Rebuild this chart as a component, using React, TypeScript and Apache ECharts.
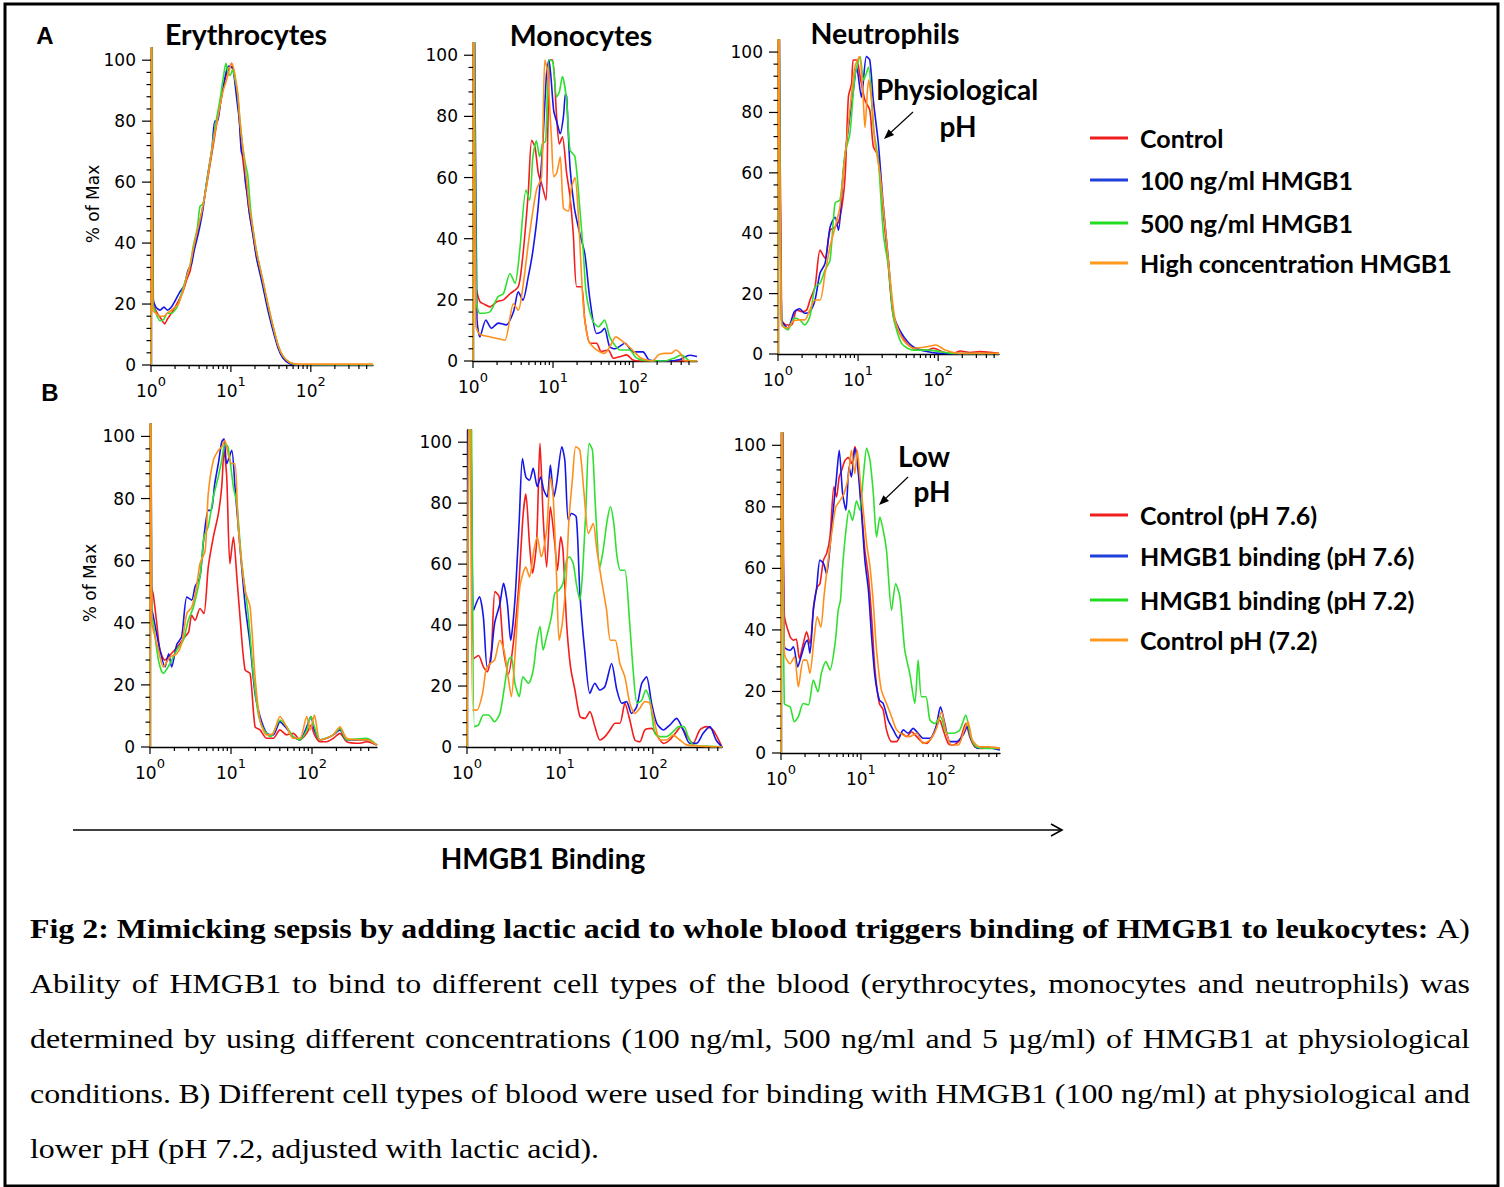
import React, { useEffect, useRef } from 'react';
import * as echarts from 'echarts';

// ---------- labels ----------
const PANEL_TITLES = ['Erythrocytes', 'Monocytes', 'Neutrophils'];
const LEGEND_A = ['Control', '100 ng/ml HMGB1', '500 ng/ml HMGB1', 'High concentration HMGB1'];
const LEGEND_B = ['Control (pH 7.6)', 'HMGB1 binding (pH 7.6)', 'HMGB1 binding (pH 7.2)', 'Control pH (7.2)'];
const Y_TICKS = [0, 20, 40, 60, 80, 100];
const Y_MINOR = [4, 8, 12, 16, 24, 28, 32, 36, 44, 48, 52, 56, 64, 68, 72, 76, 84, 88, 92, 96];
const X_DECADES = [1, 10, 100];
const X_MINOR = [2, 3, 4, 5, 6, 7, 8, 9, 20, 30, 40, 50, 60, 70, 80, 90, 200, 300, 400, 500];
const CAPTION_BOLD = 'Fig 2: Mimicking sepsis by adding lactic acid to whole blood triggers binding of HMGB1 to leukocytes:';
const CAPTION_LINES = [
  'A)',
  'Ability of HMGB1 to bind to different cell types of the blood (erythrocytes, monocytes and neutrophils) was',
  'determined by using different concentrations (100 ng/ml, 500 ng/ml and 5 µg/ml) of HMGB1 at physiological',
  'conditions. B) Different cell types of blood were used for binding with HMGB1 (100 ng/ml) at physiological and',
  'lower pH (pH 7.2, adjusted with lactic acid).',
];

// ---------- data: [fluorescence, % of max] ----------
// A: Erythrocytes
const ERY_CONTROL = [[1.0,0],[1.03,150],[1.07,20],[1.2,17],[1.35,15],[1.48,13.5],[1.6,15],[1.8,17],[2.0,19],[2.2,21],[2.5,24],[2.8,28],[3.1,31],[3.38,37],[3.8,43],[4.3,50],[4.97,59],[5.5,66],[6.0,72],[6.62,79],[7.3,85],[8.0,91],[8.7,95],[9.4,97],[10.2,99],[10.9,96],[11.6,91],[12.3,86],[13,77],[14,68],[15.8,57],[17,50],[18.8,43],[21,35],[25,27],[29,19],[33.5,12.5],[39,6],[44.7,2.6],[54.6,0.5],[70,0],[600,0]];
const ERY_100 = [[1.0,0],[1.02,150],[1.06,22],[1.15,19],[1.3,18],[1.45,19],[1.6,18],[1.8,19],[2.0,21],[2.3,24],[2.6,26],[2.9,31],[3.2,33],[3.5,38],[3.9,43],[4.4,50],[4.97,60],[5.4,66],[5.8,71],[6.3,80],[6.8,80],[7.4,86],[8.0,91],[8.7,96],[9.3,98],[9.9,98],[10.6,97],[11.3,92],[12,86],[12.8,80],[13.5,70],[14.5,68],[15.2,60],[15.8,57],[17,50],[18.8,43],[21,35],[25,26],[29,18],[33.5,11.5],[39,5.5],[44.7,2.3],[54.6,0.4],[70,0],[600,0]];
const ERY_500 = [[1.0,0],[1.02,150],[1.06,20],[1.15,17],[1.3,14.5],[1.45,15],[1.6,17],[1.8,17],[2.0,18],[2.2,20],[2.5,25],[2.8,29],[3.1,33],[3.38,39],[3.8,45],[4.1,52],[4.5,53],[4.97,60],[5.5,67],[6.0,74],[6.62,81],[7.3,87],[8.0,94],[8.66,99],[9.2,96],[9.8,95],[10.5,97],[11.2,94],[12,90],[13,80],[14,72],[15.2,66],[16.3,62],[17.5,52],[18.8,45],[21,37],[25,28],[29,20],[33.5,13],[39,6.5],[44.7,3],[54.6,0.8],[70,0.1],[600,0]];
const ERY_HIGH = [[1.0,0],[1.01,150],[1.05,18],[1.15,17],[1.3,16],[1.45,16],[1.6,17],[1.8,18],[2.0,19],[2.2,20],[2.5,24],[2.8,29],[3.1,33],[3.38,38],[3.8,44],[4.3,50],[4.97,59],[5.5,67],[6.0,73],[6.62,79],[7.3,85],[8.0,90],[8.7,93],[9.4,96],[10.2,99],[10.9,97],[11.6,93],[12.3,88],[13,80],[14,72],[15.8,60],[17,52],[18.8,45],[21,37],[25,28],[29,20],[33.5,13],[39,6.5],[44.7,3],[54.6,0.8],[70,0.3],[600,0.3]];

// A: Monocytes
const MONO_CONTROL = [[1.0,0],[1.03,150],[1.08,25],[1.22,19.4],[1.4,18.5],[1.63,17.7],[1.98,19.4],[2.4,20],[2.9,22],[3.68,24.3],[4.1,32],[4.46,41.7],[4.9,54.8],[5.41,72.2],[5.95,70],[6.55,61.4],[7.2,58],[8.17,52.6],[8.6,75],[9.17,98.4],[9.9,98.4],[11.1,79.8],[12,71],[13.1,73.3],[14.8,61.4],[16.3,53.8],[17.9,41.7],[19.8,24.3],[22.7,24.3],[25,13.4],[29,5.8],[35,5.8],[40,3.1],[49,3.6],[57,0.9],[70,1.5],[83,2],[100,0.3],[120,0],[630,0]];
const MONO_100 = [[1.0,0],[1.02,150],[1.12,14],[1.22,7.9],[1.45,13.4],[1.7,10.7],[2.07,12.4],[2.6,11.8],[3.2,16],[3.68,22.6],[4.2,19.9],[4.9,27.5],[5.6,36],[6.5,50],[7.4,70],[8.3,94],[8.9,98.4],[10.2,81.9],[11.2,78],[12.3,74.3],[13.5,80],[14.3,87.4],[14.8,86.4],[16.3,63.5],[18.5,50],[21.6,41.7],[25,35],[29,19.9],[35,9],[40,9.5],[44,10.7],[51,4.7],[60,4],[70,5],[79,5.8],[100,3],[133,3],[160,0.3],[260,0],[387,0.5],[510,1.9],[630,1.5]];
const MONO_500 = [[1.0,0],[1.02,150],[1.1,20],[1.22,15.6],[1.63,16.1],[2.05,21],[2.4,22],[2.9,28.6],[3.35,25.4],[3.8,35],[4.6,55.9],[5.1,52.6],[5.6,66.8],[6.2,72],[6.8,66.8],[7.4,71],[8.1,72],[8.9,98.4],[9.9,98],[11.1,86.4],[12,88],[13.1,93],[14.8,85],[16.3,69],[18.8,66.8],[21.6,50],[24,35],[26,22],[31,13.4],[37,11.2],[44,13.4],[51,7.9],[60,5],[69,3.6],[90,3.6],[110,1],[130,0.3],[250,0],[330,1],[400,2],[520,0],[630,0]];
const MONO_HIGH = [[1.0,0],[1.01,150],[1.08,12],[1.2,8.9],[1.6,7.9],[2.07,7.3],[2.5,6.8],[3.2,18.7],[3.68,16.6],[4.2,24.2],[5.1,41.7],[6.2,55.9],[7.2,60.3],[7.9,98.4],[8.5,95],[9.6,72],[10.2,60.3],[11.1,61.4],[12.3,66.8],[13.5,50],[15.5,49],[17,56.7],[18.8,60],[20.8,47],[24,17.7],[27.8,6.8],[35,3.6],[44,2.5],[52,5],[61,7.9],[79,5.8],[95,4],[125,1],[175,0],[207,2],[250,2.5],[300,2.5],[340,3.6],[390,2.5],[450,0],[630,0]];

// A: Neutrophils
const NEUT_CONTROL = [[1.0,0],[1.02,150],[1.11,11.3],[1.28,9.6],[1.48,9.6],[1.71,14.6],[1.98,14],[2.28,14.6],[2.51,17.9],[2.9,22.3],[3.35,34.4],[3.87,31.7],[4.47,41],[5.16,42],[5.95,45.3],[6.87,58.4],[7.57,85.2],[8.3,89.6],[8.7,97.4],[9.6,97.4],[10.6,91.8],[12.2,84],[14,80.8],[15.5,68.7],[17.9,65.4],[20.7,46.6],[23.9,28.9],[27.6,12.3],[35,5.7],[48.5,1.9],[72,1.3],[87,1.9],[120,0.5],[154,0.2],[188,1],[250,0.5],[333,0.8],[575,0.2]];
const NEUT_100 = [[1.0,0],[1.02,150],[1.11,11.3],[1.33,8.6],[1.6,14],[1.87,15],[2.16,13.5],[2.5,14],[2.9,17.9],[3.35,26.8],[3.87,30],[4.47,42],[5.16,45.3],[5.7,41],[6.5,59.6],[7.57,75],[8.7,87],[9.6,95],[11,85],[12.7,98.5],[14,97.4],[15.5,84],[17.9,69.8],[20.7,48.8],[23.9,31.2],[27.6,13.4],[35,6.8],[48.5,2.4],[72,0.8],[105,0.2],[575,0.1]];
const NEUT_500 = [[1.0,0],[1.02,150],[1.11,10.2],[1.33,8],[1.6,11.9],[1.87,11.3],[2.16,9.6],[2.5,12.4],[2.9,22.3],[3.35,23.4],[3.87,27.8],[4.47,31.2],[5.16,50],[5.95,51],[6.87,66.5],[7.9,73],[9.1,91.8],[10.6,98.5],[11.7,90.7],[13.5,95],[15.5,75],[17.9,64],[20.7,39.7],[23.9,28.9],[27.6,12.3],[35,3.5],[48.5,1.3],[75,1.3],[105,0.8],[154,0.2],[575,0.1]];
const NEUT_HIGH = [[1.0,0],[1.01,150],[1.11,9.6],[1.33,8.6],[1.53,10.8],[1.87,11.3],[2.16,11.3],[2.5,14.6],[2.9,17.9],[3.35,17.9],[3.87,26.8],[4.47,35.6],[5.16,42],[5.95,48.8],[6.87,65.4],[7.9,80.8],[9.1,95],[10.4,98.5],[11.5,86],[12.2,75],[13.5,90.7],[14.8,84],[16.3,69.8],[18.8,59.6],[21.8,42],[25,25.6],[29,11.3],[36.6,4.6],[50,1.9],[72,2.4],[94,3],[122,1.3],[188,0.2],[575,0.2]];

// B: Erythrocytes
const ERY_B_CTRL76 = [[1.0,0],[1.02,150],[1.04,52],[1.1,49],[1.21,40],[1.33,31],[1.53,28],[1.77,29.6],[2.14,32],[2.7,35.5],[3.0,37],[3.27,42.4],[3.6,40.8],[4.14,44.6],[4.63,43],[5.24,58],[6.05,67.6],[6.97,75],[7.68,83.7],[8.2,95.5],[8.85,87],[9.7,59],[10.7,67.6],[11.8,54.8],[12.9,42],[14.9,24.8],[17.2,23.7],[19.8,6.5],[22.8,5.5],[27.6,2.8],[33.3,2.8],[40.2,5.5],[48.6,3.9],[58.6,4.4],[71,2.3],[86,4.4],[97,7],[107,4],[125,1.7],[151,1.7],[183,2.8],[221,4.4],[268,1.7],[391,1.2],[472,1.7],[634,0.6]];
const ERY_B_HMGB76 = [[1.0,0],[1.02,150],[1.05,45],[1.1,42],[1.33,31.2],[1.53,25.8],[1.7,30],[1.85,25.8],[2.14,33],[2.46,35.5],[2.85,48.3],[3.27,47.3],[3.6,51.6],[4.14,54.8],[4.63,67.6],[5.24,76.2],[5.7,76.2],[6.3,84.8],[6.97,91.2],[7.68,98.2],[8.2,99.2],[8.85,91.2],[10.2,95.5],[11.2,83.7],[12.3,70.8],[14.9,46],[17.2,33],[19.8,17.2],[22.8,9.8],[27.6,4.4],[33.3,3.9],[40.2,8.1],[48.6,6],[58.6,3.3],[71,2.3],[86,6.5],[97,9.8],[107,5.5],[125,2.3],[151,2.8],[183,3.9],[221,5.5],[268,2.3],[391,2.3],[472,2.3],[634,0.6]];
const ERY_B_HMGB72 = [[1.0,0],[1.02,150],[1.05,42],[1.1,39.8],[1.27,28],[1.46,23.7],[1.77,26.9],[2.14,31.2],[2.58,34.4],[2.97,40.8],[3.43,45],[4.14,54.8],[4.63,67.6],[5.24,71],[6.05,80.5],[6.97,87],[7.68,92.3],[8.4,97.6],[9.2,96.6],[10.7,83.7],[11.8,78.4],[13.5,60],[16.4,42],[19,22.6],[22,9.8],[25.5,5.5],[30.8,3.3],[40.2,8.7],[48.6,6.5],[58.6,3.3],[71,2.3],[86,5.5],[97,9.8],[107,6.5],[125,2.3],[183,3.9],[221,6],[268,2.3],[472,2.8],[634,0.6]];
const ERY_B_CTRL72 = [[1.0,0],[1.01,150],[1.05,40],[1.1,37.6],[1.27,31.2],[1.46,25.8],[1.77,29],[2.14,30],[2.46,33.3],[2.85,43],[3.27,45],[3.7,50.5],[4.14,59],[4.8,63.3],[5.24,81.6],[6.05,92.3],[6.97,95.5],[7.68,96.6],[8.4,98.7],[9.2,94.4],[10.2,91.2],[11.2,91.2],[12.3,70.8],[14.9,50.5],[17.2,45],[19.8,22.6],[22.8,8.7],[27.6,3.9],[33.3,4.4],[40.2,9.8],[48.6,6.5],[58.6,2.8],[71,2.8],[86,9.8],[95,5.5],[107,10.3],[125,2.3],[151,2.8],[183,3.9],[221,6.5],[268,2.8],[391,2.3],[472,2.3],[634,0.6]];

// B: Monocytes
const MONO_B_CTRL76 = [[1.0,0],[1.08,150],[1.18,29],[1.33,30],[1.5,26.3],[1.65,24.7],[1.83,31.8],[2.0,51],[2.22,49.3],[2.47,31.8],[2.8,24],[3.15,34],[3.58,51.5],[4.0,75.5],[4.3,83],[4.7,66.8],[5.07,57],[5.6,66.8],[6.1,99.6],[6.6,75.5],[7.19,59],[7.9,78.8],[8.8,66.8],[9.4,58],[10.2,69],[10.8,64.6],[11.8,40.5],[13,26.3],[14.5,18.7],[16.4,10],[18.6,9.4],[21,11.6],[23.8,6.7],[26.9,2.3],[30.5,3.4],[34.6,5.6],[39.3,7.8],[44.2,7.8],[50,14.3],[56.6,8.8],[64,2.3],[72.4,1.7],[82,5.6],[97,6.1],[110,3.9],[130,1.2],[152,2.3],[180,5],[200,6.7],[230,3.9],[271,1.2],[320,5.6],[377,6.7],[445,5.6],[555,0]];
const MONO_B_HMGB76 = [[1.0,0],[1.06,150],[1.18,44.9],[1.25,47],[1.36,49.3],[1.5,42.7],[1.65,26.3],[1.78,27.4],[1.98,40.5],[2.26,47],[2.47,53.7],[2.72,47],[2.95,35],[3.28,48.2],[3.65,74.4],[3.95,94.6],[4.3,88.6],[4.7,87.5],[5.16,91.4],[5.7,85.4],[6.2,88.6],[6.7,84.3],[7.3,82],[7.9,92.5],[8.6,82],[9.2,86.4],[10.5,98.5],[11.3,94],[12.3,74.4],[13.3,76.6],[15,75.5],[16.4,50.4],[18.6,30.7],[21,17.6],[23.8,20.9],[26.9,18.7],[30.5,19.8],[36,27.4],[41,18.7],[46.5,14.3],[52.1,14.9],[59,11],[67,13.2],[76,20.9],[85.5,23],[97,14.3],[110,7.8],[130,5.6],[152,7.2],[180,9.4],[212,5.6],[250,1.2],[295,1.2],[348,4.5],[410,6.7],[480,2.3],[555,0]];
const MONO_B_HMGB72 = [[1.0,0],[1.09,150],[1.2,6.7],[1.33,7.2],[1.5,10.5],[1.7,10.5],[1.98,8.3],[2.26,11],[2.5,18.7],[2.8,28.5],[3.0,29.6],[3.28,20.9],[3.65,16.5],[4.0,23],[4.6,20.9],[5.16,25.2],[5.6,34],[6.1,39.5],[6.6,31.8],[7.19,36.2],[8.1,42.7],[8.8,50.4],[9.8,51.5],[10.8,53.7],[11.8,61.3],[12.6,62.4],[13.9,60.2],[15,53.7],[16.4,48.2],[17.4,55.8],[19,77.7],[20.6,99.6],[22.4,97.4],[24,79.9],[26.9,59],[29.2,64.6],[32.3,74.4],[35,78.8],[38,73.3],[41.2,62.4],[44.9,58],[50,58],[55.7,42.7],[61.4,25.2],[67.8,14.3],[76,15.4],[84,18.7],[93,15.4],[105,4.5],[119,3.4],[140,3.4],[165,5],[191,6.7],[216,6.7],[240,3.4],[271,0.7],[377,0.3],[555,0]];
const MONO_B_CTRL72 = [[1.0,0],[1.07,150],[1.15,12.1],[1.28,12.1],[1.47,17.6],[1.6,25.2],[1.78,27.4],[1.98,28.5],[2.26,35],[2.5,31.8],[2.8,22],[3.0,16.5],[3.28,29.6],[3.71,52.6],[4.3,59],[4.7,55.8],[5.25,64.6],[5.7,69],[6.3,62.4],[7.19,71.1],[7.9,88.6],[8.47,82],[9.2,55.8],[9.8,35],[10.6,40.5],[11.6,53.7],[12.5,74.4],[13.7,88.6],[14.8,98.5],[16.4,97.4],[18.2,83],[20.3,70],[22.8,73.3],[25,64.6],[28,54.8],[31.8,44.9],[35,35],[39.3,35],[44.2,27.4],[50,23],[56.6,14.3],[64,11],[72.4,12.7],[82,14.9],[93,14.3],[105,7.8],[119,2.3],[140,2.3],[165,3.9],[195,2.3],[230,0.7],[320,0.3],[555,0]];

// B: Neutrophils
const NEUT_B_CTRL76 = [[1.0,0],[1.04,150],[1.1,45],[1.3,37.8],[1.43,36.7],[1.55,37],[1.7,30.7],[1.9,35.6],[2.09,39.4],[2.3,35.6],[2.58,48.6],[2.85,54],[3.07,55],[3.4,62.7],[3.72,64.8],[4.1,70.2],[4.6,86.5],[4.95,83.2],[5.35,89.7],[5.75,91.9],[6.3,95],[6.95,96],[7.6,94],[8.4,99.5],[9.2,94],[10.2,78.9],[11.2,66],[12.4,57.3],[13.6,44.3],[15,27],[17,16.1],[19,14],[20.9,7.5],[24.2,3.7],[28,3.7],[32.4,6.4],[37.2,5.3],[43,6.9],[49.8,5.3],[57.3,3.7],[66.2,3.1],[80.2,5.8],[97,10.7],[107,7.5],[124,3.1],[143,2.6],[173,4.2],[205,9.6],[230,5.3],[266,2],[340,1.5],[451,1.8],[550,1.5]];
const NEUT_B_HMGB76 = [[1.0,0],[1.03,150],[1.1,34.5],[1.3,33.4],[1.43,34.5],[1.62,28],[1.78,31.3],[2.0,35.6],[2.14,36.7],[2.3,32.4],[2.54,46.4],[2.8,54],[3.07,62.7],[3.4,61.6],[3.72,58.3],[4.1,67],[4.51,78.9],[4.95,89.7],[5.35,98.4],[5.9,84.3],[6.5,78.9],[7.1,93],[7.6,89.7],[8.4,99],[9.2,91.9],[10.2,77.8],[11.2,62.7],[12.4,53],[13.6,37.8],[15,24.8],[17,17.2],[19,16.1],[21.9,10.7],[25.4,7.5],[29.4,4.8],[34,7.5],[39,6.4],[45,8],[52,6.4],[60,4.8],[73,4.8],[87,8.5],[99,15],[112,9.6],[130,3.7],[157,3.7],[190,5.8],[213,8.5],[242,4.2],[292,1.5],[372,2],[451,1.5],[550,1]];
const NEUT_B_HMGB72 = [[1.0,0],[1.03,150],[1.1,16.1],[1.3,15],[1.47,10.2],[1.65,11.8],[1.9,16.1],[2.2,15.6],[2.54,23.7],[2.9,19.9],[3.2,25.9],[3.65,29.7],[4.1,27],[4.75,35.6],[5.2,46.4],[5.55,49.7],[5.9,60.5],[6.5,72.4],[7.1,78.9],[7.85,75.6],[8.8,82],[9.7,78.9],[10.7,89.7],[11.8,99],[13,95],[14.3,84.3],[15.7,70.2],[17.3,76.7],[19,72.4],[20.9,65.9],[24.2,46.4],[27.2,55],[30.7,50.8],[35.4,33.4],[40.8,25.9],[47.3,16.1],[52,30.2],[57.3,18.3],[65,18.3],[73,10.7],[84,9.6],[99,11.8],[118,6.4],[143,6.4],[173,7.5],[205,12.3],[236,5.3],[278,2],[372,1.5],[550,1.5]];
const NEUT_B_CTRL72 = [[1.0,0],[1.02,150],[1.1,32.4],[1.3,29],[1.47,31.3],[1.65,21.5],[1.9,30.2],[2.09,30.2],[2.3,25.9],[2.58,36.7],[2.85,44.3],[3.15,41],[3.45,50.8],[3.8,60.5],[4.3,71.3],[4.85,80],[5.46,82],[6.15,84.3],[6.95,89.7],[7.6,98.4],[8.4,90.8],[9.0,98.4],[9.7,89.7],[10.7,78.9],[11.8,68],[13,60.5],[14.3,48.6],[15.7,33.4],[18,20.5],[20.9,16.1],[24.2,11.8],[28,7.5],[34,5.8],[40.8,5.3],[49.8,6.4],[60,3.1],[73,4.2],[88,8],[102,13.4],[115,7.5],[136,2.6],[165,2.6],[193,6.9],[218,10.2],[248,4.2],[307,2],[400,2],[550,1.5]];

const PANEL_SERIES = [
  [ERY_CONTROL, ERY_100, ERY_500, ERY_HIGH],
  [MONO_CONTROL, MONO_100, MONO_500, MONO_HIGH],
  [NEUT_CONTROL, NEUT_100, NEUT_500, NEUT_HIGH],
  [ERY_B_CTRL76, ERY_B_HMGB76, ERY_B_HMGB72, ERY_B_CTRL72],
  [MONO_B_CTRL76, MONO_B_HMGB76, MONO_B_HMGB72, MONO_B_CTRL72],
  [NEUT_B_CTRL76, NEUT_B_HMGB76, NEUT_B_HMGB72, NEUT_B_CTRL72],
];
const X_MAX = [600, 630, 575, 634, 555, 550];

// ---------- layout / style ----------
const GRIDS = [
  { left: 151, top: 48, width: 222, height: 317 },
  { left: 473, top: 43, width: 224, height: 318 },
  { left: 778, top: 40, width: 221, height: 314 },
  { left: 150, top: 424, width: 227, height: 323 },
  { left: 467, top: 430, width: 255, height: 317 },
  { left: 781, top: 433, width: 219, height: 320 },
];
const SERIES_COLORS = ['#f41c1c', '#1616e8', '#30e030', '#ff8f1c'];
const LEGEND_COLORS = ['#f01e1e', '#1e3fd9', '#22dc22', '#ff9a1e'];
const AXIS_FONT = 'DejaVu Sans';
const BOLD_FONT = 'Lato';
const SERIF = 'Liberation Serif';
const CAPTION_SCALE_X = 1.14;

function buildCaption(): any[] {
  const out: any[] = [];
  const canvas = document.createElement('canvas');
  const ctx = canvas.getContext('2d') as CanvasRenderingContext2D;
  const left = 30;
  const width = 1440;
  const ys = [928, 983, 1038, 1093, 1148];
  const lines: { w: string; b: boolean }[][] = [];
  lines.push([
    ...CAPTION_BOLD.split(' ').map((w) => ({ w, b: true })),
    ...CAPTION_LINES[0].split(' ').map((w) => ({ w, b: false })),
  ]);
  for (let i = 1; i < CAPTION_LINES.length; i++) {
    lines.push(CAPTION_LINES[i].split(' ').map((w) => ({ w, b: false })));
  }
  lines.forEach((words, li) => {
    const last = li === lines.length - 1;
    let fs = 28;
    let widths: number[] = [];
    let gap = 0;
    for (let iter = 0; iter < 30; iter++) {
      widths = words.map((t) => {
        ctx.font = `${t.b ? 'bold ' : ''}${fs}px "${SERIF}"`;
        return ctx.measureText(t.w).width * CAPTION_SCALE_X;
      });
      const sum = widths.reduce((a, b) => a + b, 0);
      gap = last ? fs * 0.25 * CAPTION_SCALE_X : (width - sum) / (words.length - 1);
      if (last || gap >= fs * 0.16) break;
      fs -= 0.5;
    }
    let x = left;
    words.forEach((t, i) => {
      out.push({
        type: 'text',
        x,
        y: ys[li],
        scaleX: CAPTION_SCALE_X,
        style: {
          text: t.w,
          fontSize: fs,
          fontFamily: SERIF,
          fontWeight: t.b ? 'bold' : 'normal',
          fill: '#000',
          textAlign: 'left',
          textVerticalAlign: 'middle',
        },
      });
      x += widths[i] + gap;
    });
  });
  return out;
}

function arrowHead(tipX: number, tipY: number, fromX: number, fromY: number, len: number, half: number) {
  const dx = tipX - fromX;
  const dy = tipY - fromY;
  const d = Math.sqrt(dx * dx + dy * dy);
  const ux = dx / d;
  const uy = dy / d;
  const bx = tipX - ux * len;
  const by = tipY - uy * len;
  return [
    [tipX, tipY],
    [bx - uy * half, by + ux * half],
    [bx + uy * half, by - ux * half],
  ];
}

function buildOption(): any {
  const grid: any[] = [];
  const xAxis: any[] = [];
  const yAxis: any[] = [];
  const series: any[] = [];

  GRIDS.forEach((g, i) => {
    grid.push({ ...g, containLabel: false, show: false });
    xAxis.push({
      type: 'log',
      logBase: 10,
      gridIndex: i,
      min: 1,
      max: X_MAX[i],
      axisLine: { show: true, lineStyle: { color: '#000', width: 1.4 } },
      axisTick: { show: false },
      minorTick: { show: false },
      splitLine: { show: false },
      axisLabel: {
        show: true,
        margin: 10,
        color: '#000',
        formatter: (v: number) => {
          const l = Math.log10(v);
          const r = Math.round(l);
          if (Math.abs(l - r) > 1e-6) return '';
          return `{b|10}{s|${r}}`;
        },
        rich: {
          b: { fontSize: 17, fontFamily: AXIS_FONT, color: '#000', lineHeight: 24, verticalAlign: 'bottom' },
          s: { fontSize: 13, fontFamily: AXIS_FONT, color: '#000', lineHeight: 14, verticalAlign: 'top' },
        },
      },
    });
    yAxis.push({
      type: 'value',
      gridIndex: i,
      min: 0,
      max: 104,
      interval: 20,
      axisLine: { show: true, lineStyle: { color: '#000', width: 1.4 } },
      axisTick: { show: false },
      minorTick: { show: false },
      splitLine: { show: false },
      axisLabel: {
        margin: 15,
        color: '#000',
        fontSize: 17,
        fontFamily: AXIS_FONT,
        formatter: (v: number) => (Y_TICKS.indexOf(v) >= 0 ? String(v) : ''),
      },
    });
    PANEL_SERIES[i].forEach((data, k) => {
      series.push({
        type: 'line',
        xAxisIndex: i,
        yAxisIndex: i,
        data,
        symbol: 'none',
        showSymbol: false,
        smooth: 0.25,
        clip: true,
        lineStyle: { color: SERIES_COLORS[k], width: 1.6 },
        z: 3 + k,
      });
    });
    const tickData: number[][] = [];
    X_DECADES.forEach((v) => tickData.push([v, 0, 0]));
    X_MINOR.filter((v) => v <= X_MAX[i]).forEach((v) => tickData.push([v, 0, 1]));
    Y_TICKS.forEach((v) => tickData.push([1, v, 2]));
    Y_MINOR.forEach((v) => tickData.push([1, v, 3]));
    series.push({
      type: 'custom',
      xAxisIndex: i,
      yAxisIndex: i,
      data: tickData,
      clip: false,
      silent: true,
      z: 10,
      renderItem: (params: any, api: any) => {
        const p = api.coord([api.value(0), api.value(1)]);
        const k = api.value(2);
        let shape;
        if (k === 0) shape = { x1: p[0], y1: p[1], x2: p[0], y2: p[1] + 7 };
        else if (k === 1) shape = { x1: p[0], y1: p[1], x2: p[0], y2: p[1] + 4 };
        else if (k === 2) shape = { x1: p[0] - 9, y1: p[1], x2: p[0], y2: p[1] };
        else shape = { x1: p[0] - 4.5, y1: p[1], x2: p[0], y2: p[1] };
        return { type: 'line', shape, style: { stroke: '#000', lineWidth: 1.2 } };
      },
    });
  });

  const graphic: any[] = [];
  graphic.push({
    type: 'rect',
    shape: { x: 5, y: 4, width: 1493, height: 1182 },
    style: { fill: 'none', stroke: '#000', lineWidth: 3 },
    z: 100,
  });
  const txt = (text: string, x: number, y: number, size: number, opts: any = {}) => ({
    type: 'text',
    x,
    y,
    rotation: opts.rotation || 0,
    style: {
      text,
      fontSize: size,
      fontFamily: opts.family || BOLD_FONT,
      fontWeight: opts.weight || 'bold',
      fill: '#000',
      textAlign: opts.align || 'center',
      textVerticalAlign: 'middle',
    },
  });
  graphic.push(txt('A', 45, 35, 24, { family: 'Liberation Sans' }));
  graphic.push(txt('B', 50, 392, 24, { family: 'Liberation Sans' }));
  graphic.push(txt(PANEL_TITLES[0], 246, 34, 28.5));
  graphic.push(txt(PANEL_TITLES[1], 581, 35, 28.5));
  graphic.push(txt(PANEL_TITLES[2], 885, 33, 28.5));
  graphic.push(txt('% of Max', 93, 204, 17, { family: AXIS_FONT, weight: 'normal', rotation: Math.PI / 2 }));
  graphic.push(txt('% of Max', 90, 583, 17, { family: AXIS_FONT, weight: 'normal', rotation: Math.PI / 2 }));

  const legendYA = [138, 180, 223, 263];
  const legendYB = [515, 556, 600, 640];
  [LEGEND_A, LEGEND_B].forEach((names, gi) => {
    const ys = gi === 0 ? legendYA : legendYB;
    names.forEach((n, k) => {
      graphic.push({
        type: 'line',
        shape: { x1: 1090, y1: ys[k], x2: 1128, y2: ys[k] },
        style: { stroke: LEGEND_COLORS[k], lineWidth: 3 },
      });
      graphic.push(txt(n, 1140, ys[k], 25, { align: 'left' }));
    });
  });

  // annotations
  graphic.push(txt('Physiological', 876, 89, 28, { align: 'left' }));
  graphic.push(txt('pH', 958, 126, 28));
  graphic.push({ type: 'line', shape: { x1: 913, y1: 112, x2: 888, y2: 135 }, style: { stroke: '#000', lineWidth: 1.1 } });
  graphic.push({ type: 'polygon', shape: { points: arrowHead(884, 139, 913, 112, 10, 4) }, style: { fill: '#000' } });
  graphic.push(txt('Low', 924, 456, 28));
  graphic.push(txt('pH', 932, 491, 28));
  graphic.push({ type: 'line', shape: { x1: 908, y1: 477, x2: 883, y2: 501 }, style: { stroke: '#000', lineWidth: 1.1 } });
  graphic.push({ type: 'polygon', shape: { points: arrowHead(879, 505, 908, 477, 10, 4) }, style: { fill: '#000' } });

  // big axis arrow
  graphic.push({ type: 'line', shape: { x1: 73, y1: 830, x2: 1061, y2: 830 }, style: { stroke: '#000', lineWidth: 1.6 } });
  graphic.push({
    type: 'polyline',
    shape: { points: [[1051, 824], [1062, 830], [1051, 836]] },
    style: { stroke: '#000', lineWidth: 1.6, fill: 'none' },
  });
  graphic.push(txt('HMGB1 Binding', 543, 858, 28));

  buildCaption().forEach((g) => graphic.push(g));

  return {
    animation: false,
    backgroundColor: '#fff',
    grid,
    xAxis,
    yAxis,
    series,
    graphic,
  };
}

export default function App() {
  const ref = useRef<HTMLDivElement>(null);
  useEffect(() => {
    if (!ref.current) return;
    const chart = echarts.init(ref.current, undefined, { renderer: 'svg' });
    chart.setOption(buildOption());
    return () => chart.dispose();
  }, []);
  return (
    <div
      ref={ref}
      style={{ position: 'absolute', left: 0, top: 0, width: 1504, height: 1187, background: '#fff' }}
    />
  );
}
